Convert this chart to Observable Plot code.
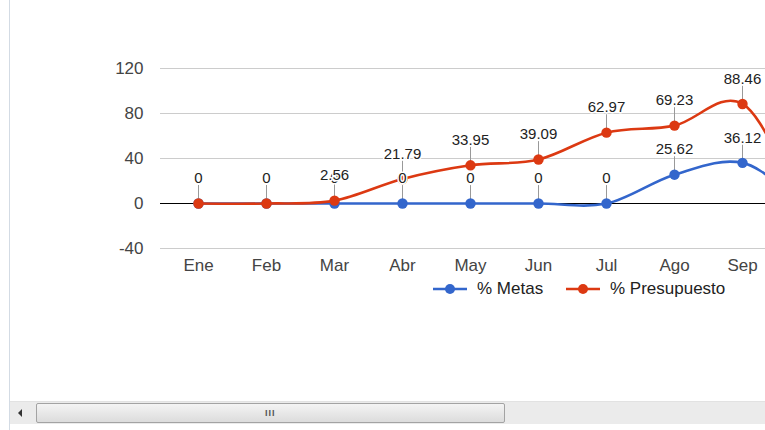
<!DOCTYPE html>
<html>
<head>
<meta charset="utf-8">
<script src="https://cdn.jsdelivr.net/npm/d3@7"></script>
<script src="https://cdn.jsdelivr.net/npm/@observablehq/plot@0.6"></script>
<style>
  html, body { margin: 0; padding: 0; background: #ffffff; width: 765px; height: 430px; overflow: hidden; font-family: Arial, "Liberation Sans", sans-serif; }
  #frame { position: absolute; left: 9px; top: 0; width: 756px; height: 430px; border-left: 1px solid #d3dbe4; }
  #chart { position: absolute; left: 0; top: 0; width: 756px; height: 400px; overflow: hidden; }
  #chart svg { position: absolute; left: 0; top: 0; max-width: none !important; width: 1000px !important; height: 280px !important; }
  #legend { position: absolute; top: 279px; left: 0; width: 756px; height: 20px; font-size: 17px; color: #222; }
  .lg { position: absolute; top: 0; display: flex; align-items: center; height: 20px; }
  #track { position: absolute; left: 0; top: 401px; width: 756px; height: 22px; background: #ebebeb; border-top: 1px solid #e2e2e2; }
  #arrow { position: absolute; left: 8px; top: 7px; width: 0; height: 0; border-top: 4px solid transparent; border-bottom: 4px solid transparent; border-right: 4px solid #333; }
  #thumb { position: absolute; left: 26px; top: 1px; width: 467px; height: 18px; border: 1px solid #a3a3a3; border-radius: 2px; background: linear-gradient(#f4f4f4, #dcdcdc); }
  #grip { position: absolute; left: 228px; top: 5px; font-size: 9px; line-height: 9px; color: #555; letter-spacing: 1px; font-weight: bold; }
</style>
</head>
<body>
<div id="frame">
  <div id="chart"></div>
  <div id="legend"></div>
  <div id="track"><div id="arrow"></div><div id="thumb"><div id="grip">III</div></div></div>
</div>
<script>
const months = ["Ene","Feb","Mar","Abr","May","Jun","Jul","Ago","Sep","Oct","Nov","Dic"];
const metas = [0, 0, 0, 0, 0, 0, 0, 25.62, 36.12, 0, 0, 0];
const presupuesto = [0, 0, 2.56, 21.79, 33.95, 39.09, 62.97, 69.23, 88.46, 0, 0, 0];
const yTicks = [-40, 0, 40, 80, 120];
const visibleMonths = months.slice(0, 9); // months that fit inside the scrolled viewport
const seriesNames = ["% Metas", "% Presupuesto"];
const colors = ["#3366cc", "#dc3912"];

const rowsMetas = months.map((m, i) => ({month: m, value: metas[i], serie: seriesNames[0]}));
const rowsPres = months.map((m, i) => ({month: m, value: presupuesto[i], serie: seriesNames[1]}));

const stemShape = {draw(context, l) { context.moveTo(0, 0); context.lineTo(0, -l); }};

function seriesMarks(rows, color) {
  return [
    Plot.line(rows, {x: "month", y: "value", stroke: color, strokeWidth: 2.6, curve: "cardinal"}),
    Plot.vector(rows, {x: "month", y: "value", length: 18, rotate: 0, anchor: "start", shape: stemShape, stroke: "#999", strokeWidth: 1}),
    Plot.dot(rows, {x: "month", y: "value", r: 5.2, fill: color, stroke: "none"})
  ];
}
function labelMarks(rows) {
  return Plot.text(rows.filter(d => visibleMonths.includes(d.month)), {x: "month", y: "value", text: d => String(d.value), dy: -25, fontSize: 15, fill: "#222", stroke: "white", strokeWidth: 3, fontFamily: "Arial, 'Liberation Sans', sans-serif"});
}

const chart = Plot.plot({
  width: 1000,
  height: 280,
  marginLeft: 150,
  marginRight: 20,
  marginTop: 60,
  marginBottom: 32,
  style: {fontFamily: "Arial, 'Liberation Sans', sans-serif", background: "transparent", overflow: "visible"},
  x: {type: "point", domain: months, padding: 0, range: [186.7, 186.7 + 11 * 68.2]},
  y: {domain: [-40, 120], range: [248, 68]},
  marks: [
    Plot.ruleY(yTicks.filter(t => t !== 0), {stroke: "#cccccc", strokeWidth: 1}),
    Plot.ruleY([0], {stroke: "#000", strokeWidth: 1}),
    Plot.axisY({ticks: yTicks, tickFormat: d => String(d), tickSize: 0, tickPadding: 17, fontSize: 17, fill: "#444", label: null}),
    Plot.axisX({ticks: visibleMonths, tickSize: 0, tickPadding: 10, fontSize: 17, fill: "#444", label: null}),
    ...seriesMarks(rowsMetas, colors[0]),
    ...seriesMarks(rowsPres, colors[1]),
    labelMarks(rowsMetas),
    labelMarks(rowsPres)
  ]
});
document.getElementById("chart").appendChild(chart);

const legend = document.getElementById("legend");
const legendPos = [423, 556];
seriesNames.forEach((name, i) => {
  const item = document.createElement("div");
  item.className = "lg";
  item.style.left = legendPos[i] + "px";
  item.innerHTML = `<svg width="34" height="12" style="margin-right:10px"><line x1="0" x2="34" y1="6" y2="6" stroke="${colors[i]}" stroke-width="2.6"/><circle cx="17" cy="6" r="5" fill="${colors[i]}"/></svg><span>${name}</span>`;
  legend.appendChild(item);
});
</script>
</body>
</html>
